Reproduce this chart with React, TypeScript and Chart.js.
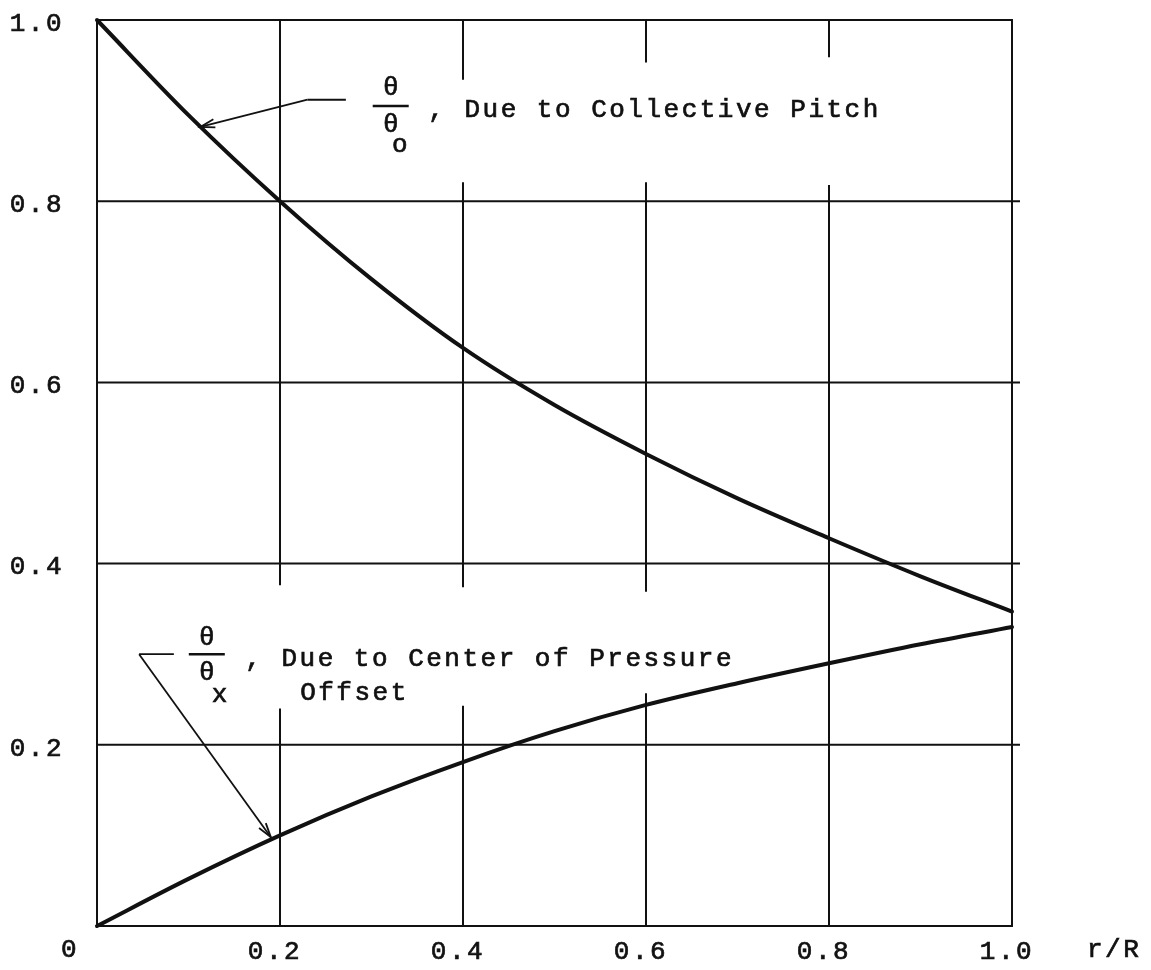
import { useEffect, useRef } from "react";
import { Chart, registerables } from "chart.js";

Chart.register(...registerables);

// r/R stations along the blade
const radius = [0, 0.1, 0.2, 0.3, 0.4, 0.5, 0.6, 0.7, 0.8, 0.9, 1.0];
// θ/θo, due to collective pitch
const collectivePitch = [1.0, 0.895, 0.8, 0.714, 0.638, 0.575, 0.521, 0.472, 0.428, 0.386, 0.347];
// θ/θx, due to center of pressure offset
const pressureOffset = [0, 0.052, 0.1, 0.143, 0.181, 0.215, 0.244, 0.268, 0.29, 0.311, 0.33];

// grid rulings (both axes)
const gridValues = [0, 0.2, 0.4, 0.6, 0.8, 1.0];
const xTickLabels = ["0", "0.2", "0.4", "0.6", "0.8", "1.0"];
const yTickLabels = ["0", "0.2", "0.4", "0.6", "0.8", "1.0"];

// interruptions in the vertical rulings: [x, from y, to y]
const gridBreaks: [number, number, number][] = [
  [0.2, 0.24, 0.376],
  [0.4, 0.243, 0.374],
  [0.4, 0.821, 0.934],
  [0.6, 0.257, 0.369],
  [0.6, 0.821, 0.953],
  [0.8, 0.818, 0.959],
];

const FONT = "'Liberation Mono', 'DejaVu Sans Mono', monospace";
const FONT_SIZE = 26;
const INK = "#111111";
const TEXT_STROKE = 0.7;

type Pt = [number, number];

const upperNote = {
  stub: [[0.272, 0.912], [0.23, 0.912]] as Pt[],
  tip: [0.113, 0.882] as Pt,
  fracX: 0.321,
  num: 0.925,
  bar: 0.905,
  den: 0.884,
  sub: [0.331, 0.862] as Pt,
  subText: "o",
  text: [0.362, 0.9] as Pt,
  label: ", Due to Collective Pitch",
};

const lowerNote = {
  stub: [[0.084, 0.3], [0.046, 0.3]] as Pt[],
  tip: [0.19, 0.098] as Pt,
  fracX: 0.12,
  num: 0.318,
  bar: 0.3,
  den: 0.279,
  sub: [0.134, 0.255] as Pt,
  subText: "x",
  text: [0.162, 0.295] as Pt,
  label: ", Due to Center of Pressure",
  second: [0.222, 0.257] as Pt,
  secondLabel: "Offset",
};

function drawArrow(ctx: CanvasRenderingContext2D, x0: number, y0: number, x1: number, y1: number) {
  ctx.beginPath();
  ctx.moveTo(x0, y0);
  ctx.lineTo(x1, y1);
  ctx.stroke();
  const ang = Math.atan2(y1 - y0, x1 - x0);
  const len = 15;
  const spread = 0.28;
  ctx.beginPath();
  ctx.moveTo(x1 - len * Math.cos(ang - spread), y1 - len * Math.sin(ang - spread));
  ctx.lineTo(x1, y1);
  ctx.lineTo(x1 - len * Math.cos(ang + spread), y1 - len * Math.sin(ang + spread));
  ctx.stroke();
}

// filled text with a hairline outline for a typewriter-like weight
function inkText(ctx: CanvasRenderingContext2D, s: string, x: number, y: number) {
  ctx.fillText(s, x, y);
  const lw = ctx.lineWidth;
  ctx.lineWidth = TEXT_STROKE;
  ctx.strokeText(s, x, y);
  ctx.lineWidth = lw;
}

const paperPlugin = {
  id: "paperGrid",
  beforeDraw(chart: any) {
    chart.ctx.letterSpacing = "2.5px";
  },
  beforeDatasetsDraw(chart: any) {
    const { ctx } = chart;
    const xs = chart.scales.x;
    const ys = chart.scales.y;
    ctx.save();
    ctx.strokeStyle = INK;
    ctx.lineWidth = 2;
    const left = xs.getPixelForValue(0);
    const right = xs.getPixelForValue(1);
    gridValues.forEach((v) => {
      const py = ys.getPixelForValue(v);
      const ext = v > 0 && v < 1 ? 7 : 0;
      ctx.beginPath();
      ctx.moveTo(left - 1, py);
      ctx.lineTo(right + 1 + ext, py);
      ctx.stroke();
    });
    gridValues.forEach((v) => {
      const px = xs.getPixelForValue(v);
      const breaks = gridBreaks.filter((b) => b[0] === v).sort((a, b) => a[1] - b[1]);
      let start = 0;
      const segs: [number, number][] = [];
      breaks.forEach((b) => {
        segs.push([start, b[1]]);
        start = b[2];
      });
      segs.push([start, 1]);
      segs.forEach(([a, b]) => {
        ctx.beginPath();
        ctx.moveTo(px, ys.getPixelForValue(a) + (a === 0 ? 1 : 0));
        ctx.lineTo(px, ys.getPixelForValue(b) - (b === 1 ? 1 : 0));
        ctx.stroke();
      });
    });
    ctx.restore();
  },
  afterDatasetsDraw(chart: any) {
    const { ctx } = chart;
    const xs = chart.scales.x;
    const ys = chart.scales.y;
    const X = (v: number) => xs.getPixelForValue(v);
    const Y = (v: number) => ys.getPixelForValue(v);
    ctx.save();
    ctx.strokeStyle = INK;
    ctx.fillStyle = INK;
    ctx.font = `${FONT_SIZE}px ${FONT}`;
    ctx.letterSpacing = "2.5px";
    ctx.textBaseline = "middle";

    [upperNote, lowerNote].forEach((n: any) => {
      ctx.lineWidth = 1.8;
      ctx.beginPath();
      ctx.moveTo(X(n.stub[0][0]), Y(n.stub[0][1]));
      ctx.lineTo(X(n.stub[1][0]), Y(n.stub[1][1]));
      ctx.stroke();
      drawArrow(ctx, X(n.stub[1][0]), Y(n.stub[1][1]), X(n.tip[0]), Y(n.tip[1]));

      const fx = X(n.fracX);
      ctx.textAlign = "center";
      ctx.letterSpacing = "0px";
      inkText(ctx, "θ", fx, Y(n.num));
      inkText(ctx, "θ", fx, Y(n.den));
      inkText(ctx, n.subText, X(n.sub[0]), Y(n.sub[1]));
      ctx.lineWidth = 2.6;
      ctx.beginPath();
      ctx.moveTo(fx - 18, Y(n.bar));
      ctx.lineTo(fx + 18, Y(n.bar));
      ctx.stroke();

      ctx.letterSpacing = "2.5px";
      ctx.textAlign = "left";
      inkText(ctx, n.label, X(n.text[0]), Y(n.text[1]));
      if (n.second) inkText(ctx, n.secondLabel, X(n.second[0]), Y(n.second[1]));
    });

    // shared origin label and axis name
    ctx.textAlign = "center";
    inkText(ctx, xTickLabels[0], X(0) - 27, Y(0) + 24);
    ctx.textAlign = "left";
    inkText(ctx, "r/R", X(1) + 75, Y(0) + 24);
    ctx.restore();
  },
  afterDraw(chart: any) {
    chart.ctx.letterSpacing = "0px";
  },
};

export default function App() {
  const canvasRef = useRef<HTMLCanvasElement | null>(null);

  useEffect(() => {
    const canvas = canvasRef.current;
    if (!canvas) return;
    const lineStyle = {
      borderColor: INK,
      borderWidth: 4,
      pointRadius: 0,
      cubicInterpolationMode: "monotone" as const,
      borderCapStyle: "round" as const,
      clip: false as const,
      fill: false,
    };
    const chart = new Chart(canvas, {
      type: "line",
      data: {
        datasets: [
          {
            label: "θ/θo, Due to Collective Pitch",
            data: radius.map((r, i) => ({ x: r, y: collectivePitch[i] })),
            ...lineStyle,
          },
          {
            label: "θ/θx, Due to Center of Pressure Offset",
            data: radius.map((r, i) => ({ x: r, y: pressureOffset[i] })),
            ...lineStyle,
          },
        ],
      },
      options: {
        animation: false,
        responsive: false,
        devicePixelRatio: 1,
        layout: { padding: { left: 0, right: 139, top: 20, bottom: 0 } },
        plugins: { legend: { display: false }, tooltip: { enabled: false } },
        scales: {
          x: {
            type: "linear",
            min: 0,
            max: 1,
            afterBuildTicks: (s: any) => {
              s.ticks = gridValues.map((v) => ({ value: v }));
            },
            afterFit: (s: any) => {
              s.height = 44;
              s.paddingLeft = 0;
              s.paddingRight = 0;
              s.paddingTop = 0;
              s.paddingBottom = 0;
            },
            grid: { display: false, drawTicks: false },
            border: { display: false },
            ticks: {
              color: INK,
              textStrokeColor: INK,
              textStrokeWidth: TEXT_STROKE,
              font: { family: FONT, size: FONT_SIZE },
              padding: 11,
              labelOffset: -5,
              maxRotation: 0,
              autoSkip: false,
              callback: (v: any, i: number) => (i === 0 ? "" : xTickLabels[i]),
            },
          },
          y: {
            type: "linear",
            min: 0,
            max: 1,
            afterBuildTicks: (s: any) => {
              s.ticks = gridValues.map((v) => ({ value: v }));
            },
            afterFit: (s: any) => {
              s.width = 97;
              s.paddingTop = 0;
              s.paddingBottom = 0;
              s.paddingLeft = 0;
              s.paddingRight = 0;
            },
            grid: { display: false, drawTicks: false },
            border: { display: false },
            ticks: {
              color: INK,
              textStrokeColor: INK,
              textStrokeWidth: TEXT_STROKE,
              font: { family: FONT, size: FONT_SIZE },
              padding: 33,
              labelOffset: 4,
              autoSkip: false,
              callback: (v: any, i: number) => (i === 0 ? "" : yTickLabels[i]),
            },
          },
        },
      },
      plugins: [paperPlugin],
    });
    return () => chart.destroy();
  }, []);

  return (
    <div style={{ position: "absolute", left: 0, top: 0, width: 1151, height: 970, background: "#fff" }}>
      <canvas ref={canvasRef} width={1151} height={970} style={{ display: "block" }} />
    </div>
  );
}
